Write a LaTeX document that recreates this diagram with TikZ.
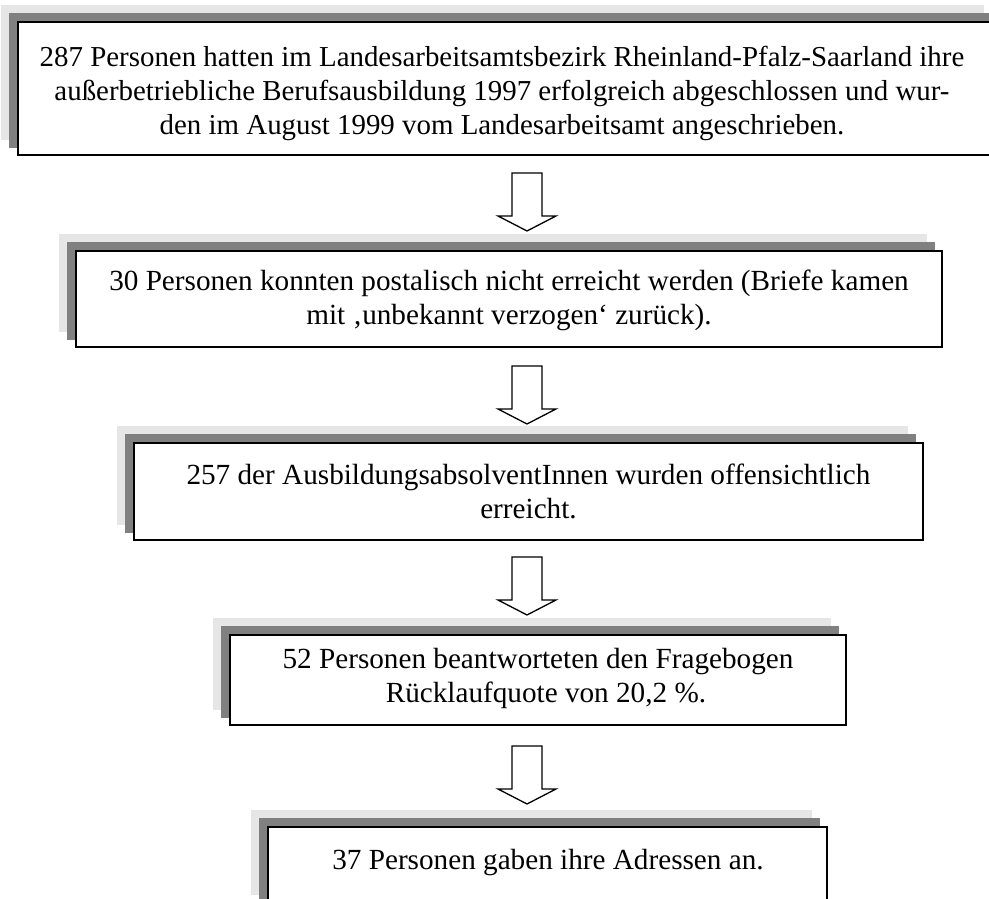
\documentclass[tikz,border=0pt]{standalone}
\usepackage{fontspec}
\setmainfont{Liberation Serif}
\usetikzlibrary{backgrounds}
\definecolor{shadelight}{RGB}{230,230,230}
\definecolor{shadedark}{RGB}{128,128,128}
\begin{document}
\begin{tikzpicture}[x=1pt,y=1pt,
  stepbox/.style={rectangle, draw=black, line width=1.5pt, fill=white, inner sep=0pt},
  boxtext/.style={align=center, inner sep=0pt, font=\fontsize{29.2}{34}\selectfont},
  arrowline/.style={draw=black, line width=1.3pt, fill=white, line join=miter},
  downarrow/.pic={\path[arrowline] (-15,0) -- (15,0) -- (15,-43) -- (29,-43) -- (0,-58) -- (-29,-43) -- (-15,-43) -- cycle;}
]
\useasboundingbox (0,0) rectangle (989,898);

% boxes of the flow
\node[stepbox, minimum width=981, minimum height=133] (b1) at (508.5,809.5) {};
\node[stepbox, minimum width=866, minimum height=96]  (b2) at (509,599) {};
\node[stepbox, minimum width=789, minimum height=97]  (b3) at (528.5,406.5) {};
\node[stepbox, minimum width=616, minimum height=90]  (b4) at (538,218) {};
\node[stepbox, minimum width=559, minimum height=83]  (b5) at (547.5,29.5) {};

% stacked shadows, shifted up and left
\begin{scope}[on background layer]
  \foreach \b in {b1,b2,b3,b4,b5} {
    \fill[shadelight] ([shift={(-16,16)}]\b.south west) rectangle ([shift={(-16,16)}]\b.north east);
    \fill[shadedark] ([shift={(-8,8)}]\b.south west) rectangle ([shift={(-8,8)}]\b.north east);
  }
\end{scope}

% texts
\node[boxtext, font=\fontsize{28.9}{34}\selectfont] (t1) at (502,805) {287 Personen hatten im Landesarbeitsamtsbezirk Rheinland-Pfalz-Saarland ihre\\außerbetriebliche Berufsausbildung 1997 erfolgreich abgeschlossen und wur-\\den im August 1999 vom Landesarbeitsamt angeschrieben.};
\node[boxtext] (t2) at (509,598) {30 Personen konnten postalisch nicht erreicht werden (Briefe kamen\\mit ‚unbekannt verzogen‘ zurück).};
\node[boxtext] (t3) at (528.5,407) {257 der AusbildungsabsolventInnen wurden offensichtlich\\erreicht.};
\node[boxtext] (t4) at (538,219.5) {52 Personen beantworteten den Fragebogen\\\hspace*{16pt}Rücklaufquote von 20,2 \%.};
\node[boxtext] (t5) at (548,35) {37 Personen gaben ihre Adressen an.};

% block arrows between the boxes
\coordinate (a1) at (527,725);
\coordinate (a2) at (527,532);
\coordinate (a3) at (527,341);
\coordinate (a4) at (527,152);
\pic at (a1) {downarrow};
\pic at (a2) {downarrow};
\pic at (a3) {downarrow};
\pic at (a4) {downarrow};
\end{tikzpicture}
\end{document}
